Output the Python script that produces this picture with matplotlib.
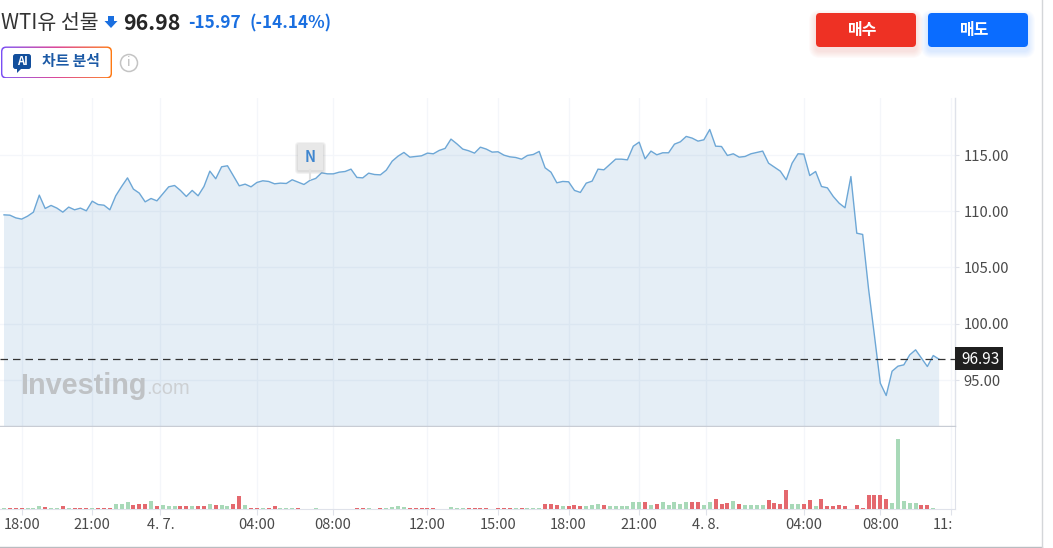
from matplotlib import pyplot as plt
from matplotlib.colors import LinearSegmentedColormap
from matplotlib.patches import FancyBboxPatch, Polygon, Circle, Rectangle
from matplotlib.transforms import ScaledTranslation
import numpy as np

plt.rcParams['font.family'] = ['Noto Sans CJK KR', 'DejaVu Sans']

W, H = 1053, 548

# 15 minute closes
prices = [
    109.70, 109.67, 109.43, 109.32, 109.58, 109.94, 111.46, 110.27, 110.54, 110.30,
    109.94, 110.39, 110.15, 110.30, 110.06, 110.92, 110.62, 110.56, 110.15, 111.40,
    112.23, 113.00, 112.00, 111.64, 110.86, 111.16, 110.95, 111.58, 112.20, 112.32,
    111.88, 111.34, 111.88, 111.40, 112.23, 113.60, 112.92, 113.99, 114.08, 113.19,
    112.29, 112.44, 112.20, 112.59, 112.74, 112.68, 112.47, 112.53, 112.50, 112.83,
    112.62, 112.41, 112.77, 112.95, 113.45, 113.36, 113.36, 113.51, 113.57, 113.78,
    113.04, 113.00, 113.42, 113.30, 113.27, 113.69, 114.49, 114.94, 115.27, 114.85,
    114.91, 114.97, 115.21, 115.15, 115.45, 115.63, 116.46, 116.04, 115.57, 115.42,
    115.21, 115.74, 115.57, 115.30, 115.33, 115.03, 114.88, 114.82, 114.67, 115.00,
    115.09, 115.36, 113.90, 113.51, 112.56, 112.68, 112.65, 111.88, 111.70, 112.53,
    112.71, 113.78, 113.72, 114.20, 114.67, 114.67, 114.61, 115.83, 116.19, 114.70,
    115.39, 115.06, 115.24, 115.24, 116.01, 116.22, 116.70, 116.55, 116.28, 116.40,
    117.32, 115.83, 115.80, 115.00, 115.15, 114.85, 114.91, 115.15, 115.27, 115.39,
    114.31, 113.96, 113.60, 112.83, 114.31, 115.15, 115.12, 113.21, 113.57, 112.23,
    112.11, 111.34, 110.74, 110.33, 113.12, 108.06, 107.95, 103.10, 98.93, 94.67,
    93.57, 95.74, 96.19, 96.31, 97.20, 97.65, 96.90, 96.16, 97.14, 96.81,
]

volumes = [
    2, 3, 3, 3, 2, 3, 7, 4, 3, 1,
    7, 3, 2, 2, 3, 2, 3, 3, 3, 14,
    14, 19, 11, 15, 15, 23, 7, 10, 7, 7,
    7, 7, 7, 7, 7, 14, 11, 10, 7, 14,
    38, 11, 2, 2, 2, 3, 7, 3, 3, 3,
    3, 0, 0, 3, 0, 0, 0, 0, 0, 0,
    3, 3, 1, 0, 3, 3, 5, 7, 6, 3,
    2, 2, 3, 3, 0, 0, 5, 3, 3, 2,
    2, 3, 3, 0, 2, 2, 3, 3, 3, 2,
    2, 3, 14, 15, 10, 7, 7, 10, 7, 7,
    10, 14, 10, 7, 7, 7, 7, 19, 19, 19,
    11, 14, 19, 11, 19, 14, 19, 19, 19, 12,
    21, 28, 14, 18, 22, 14, 10, 10, 10, 10,
    25, 18, 14, 55, 14, 14, 14, 25, 7, 29,
    7, 7, 10, 7, 0, 10, 3, 40, 40, 40,
    29, 18, 210, 22, 18, 18, 10, 10, 3, 0,
]

vol_sides = (
    'GRRRGGGRGG' 'RGRRRGRRRG' 'GGRRRGRGGG' 'RRGRRGRGGR'
    'RGRRGRRGGG' 'RGGGGGGGGG' 'RRGGRGGGGR' 'RRRRRGGGGR'
    'RRRGRRRGRG' 'GGRRRGRRRG' 'GGRGGGGGGR' 'GRGGGGGRRG'
    'GRRRGRGGGG' 'RRRRGGRRGR' 'RRRRRRRRRR' 'RGGGGGRRGG'
)

price_ticks = [95, 100, 105, 110, 115]
time_pos = [3.0, 14.9, 26.6, 43.0, 55.9, 72.0, 84.05, 96.0, 108.0, 119.4, 136.0, 149.0, 161.1]
time_labels = ['18:00', '21:00', '4. 7.', '04:00', '08:00', '12:00', '15:00',
               '18:00', '21:00', '4. 8.', '04:00', '08:00', '11:00']
last_label = '96.93'
last_y = 96.83

GREEN = '#a8d9b8'
RED = '#e4686e'
GRID = '#f4f6fa'
FRAME = '#dfe2ea'
TEXT = '#4a4a4a'
BLUE = '#1a6fe0'


def box(x0, y0, x1, y1):
    return [x0 / W, 1 - y1 / H, (x1 - x0) / W, (y1 - y0) / H]


def rounded(ax, x0, y0, x1, y1, r, **kw):
    p = FancyBboxPatch((x0 + r, y0 + r), x1 - x0 - 2 * r, y1 - y0 - 2 * r,
                       boxstyle='round,pad=%f,rounding_size=%f' % (r, r), **kw)
    ax.add_patch(p)
    return p


def soft_shadow(ax, x0, y0, x1, y1, r, color, spread, alpha, dy=4):
    for s in range(spread, 0, -1):
        rounded(ax, x0 - s, y0 - s + dy, x1 + s, y1 + s + dy, r + s,
                fc=color, ec='none', alpha=alpha)


fig = plt.figure(figsize=(W / 100, H / 100), dpi=100)
x = np.arange(len(prices))
xlim = (-0.68, 161.7)

# price panel
ax = fig.add_axes(box(0, 98, 955, 426))
ax.set_xlim(xlim)
ax.set_ylim(90.85, 120.13)
ax.fill_between(x, prices, 0, color='#1f6fb2', alpha=0.115, lw=0, zorder=2)
ax.plot(x, prices, color='#6da7d6', lw=1.0, zorder=3)
ax.axhline(last_y, color='#333333', lw=0.9, dashes=(6, 4), zorder=4)
ax.set_xticks(time_pos)
ax.set_yticks(price_ticks)
ax.set_yticklabels(['%.2f' % p for p in price_ticks], fontsize=10.7, color=TEXT)
ax.yaxis.tick_right()
ax.tick_params(axis='y', length=3, width=0.8, color=FRAME, pad=3)
ax.tick_params(axis='x', length=0, labelbottom=False)
ax.grid(True, color=GRID, lw=0.9, zorder=0)
ax.set_axisbelow(True)
for s in ['top', 'left']:
    ax.spines[s].set_visible(False)
ax.spines['right'].set_color(FRAME)
ax.spines['bottom'].set_color('#c8ccd4')
ax.spines['right'].set_linewidth(1)
ax.spines['bottom'].set_linewidth(1)
# 95.00 is pushed down a little by the last price label
lab95 = ax.get_yticklabels()[0]
lab95.set_transform(lab95.get_transform() + ScaledTranslation(0, -1 / 100, fig.dpi_scale_trans))

# volume panel
vax = fig.add_axes(box(0, 427, 955, 508.5))
vax.set_xlim(xlim)
vax.set_ylim(0, 244.5)
vax.bar(x, volumes, width=0.68, color=[GREEN if c == 'G' else RED for c in vol_sides], zorder=3)
vax.set_xticks(time_pos)
vax.set_xticklabels(time_labels, fontsize=10.5, color=TEXT)
vax.set_yticks([])
vax.tick_params(axis='x', length=4.5, width=0.8, color=FRAME, pad=2.5)
vax.grid(True, axis='x', color=GRID, lw=0.9, zorder=0)
vax.set_axisbelow(True)
for s in ['top', 'left']:
    vax.spines[s].set_visible(False)
vax.spines['right'].set_color(FRAME)
vax.spines['bottom'].set_color(FRAME)

# overlay in pixels for everything around the chart
top = fig.add_axes([0, 0, 1, 1], zorder=10)
top.set_xlim(0, W)
top.set_ylim(H, 0)
top.axis('off')
top.patch.set_alpha(0)

# last tick label is cut by the panel edge
edge = Rectangle((0, 0), 953 / W, 1, transform=fig.transFigure)
vax.get_xticklabels()[-1].set_clip_path(edge)
vax.get_xticklabels()[-1].set_clip_on(True)

top.plot([0, 1042], [547, 547], color='#b9bcc0', lw=1)
top.plot([1042, 1042], [0, 547], color='#d4d6d9', lw=1)

# watermark
top.text(20, 386, 'Investing', fontsize=20.8, fontweight='bold', color='#bfc2c5',
         family='Liberation Sans', va='center', ha='left')
top.text(146, 389, '.com', fontsize=14.5, color='#cdd0d3',
         family='Liberation Sans', va='center', ha='left')

# last price tag
top.add_patch(Rectangle((955, 347), 48, 23, fc='#1f1f1f', ec='none'))
top.text(980, 359.5, last_label, fontsize=11, color='white', ha='center', va='center')

# news flag
top.plot([310, 310], [170, 179], color='#e2e2e2', lw=1.5)
soft_shadow(top, 298, 144, 323, 170, 1, '#888888', 3, 0.1, dy=1)
top.add_patch(Rectangle((298, 144), 25, 26, fc='#e8e8e8', ec='none'))
top.text(310.5, 156.5, 'N', fontsize=10.5, fontweight='bold', color='#3f86cf', ha='center', va='center')

# header
top.text(1, 23, 'WTI유 선물', fontsize=14.8, color='#333333', va='center', ha='left')
top.add_patch(Polygon([[108, 16], [114, 16], [114, 21], [117.5, 21], [111, 28], [104.5, 21], [108, 21]],
                      fc=BLUE, ec='none'))
top.text(123, 23, '96.98', fontsize=15.4, fontweight='bold', color='#262626', va='center', ha='left')
top.text(188.5, 23, '-15.97', fontsize=12.4, fontweight='bold', color=BLUE, va='center', ha='left')
top.text(249.5, 23, '(-14.14%)', fontsize=12.4, fontweight='bold', color=BLUE, va='center', ha='left')

# AI button, gradient border
grad = LinearSegmentedColormap.from_list('ai', ['#7a50f5', '#d9358f', '#ff7a12'])
clip = rounded(top, 1, 46.5, 112, 78.5, 5, fc='none', ec='none')
im = top.imshow(np.linspace(0, 1, 256).reshape(1, -1), cmap=grad, extent=(1, 112, 78.5, 46.5),
                aspect='auto', zorder=2)
im.set_clip_path(clip)
top.set_xlim(0, W)
top.set_ylim(H, 0)
rounded(top, 2.4, 47.9, 110.6, 77.1, 4, fc='white', ec='none', zorder=3)
rounded(top, 13, 54, 31, 69, 2.5, fc='#124f9c', ec='none', zorder=4)
top.add_patch(Polygon([[17, 68], [22, 68], [17, 73]], fc='#124f9c', ec='none', zorder=4))
top.text(22, 61.5, 'AI', fontsize=8, fontweight='bold', color='white', ha='center', va='center', zorder=5)
top.text(71, 61, '차트 분석', fontsize=10.7, fontweight='bold', color='#1c5aa6', ha='center', va='center', zorder=5)
top.add_patch(Circle((129, 63), 8.5, fc='white', ec='#c4c4c4', lw=1.1))
top.text(129, 63, 'i', fontsize=9, color='#b5b5b5', ha='center', va='center')

# buy / sell buttons
soft_shadow(top, 816, 13, 916, 47, 4, '#ee3124', 7, 0.02)
rounded(top, 816, 13, 916, 47, 4, fc='#ee3124', ec='none')
top.text(863, 30, '매수', fontsize=11.5, fontweight='bold', color='white', ha='center', va='center')
soft_shadow(top, 928, 13, 1028, 47, 4, '#0a6cff', 7, 0.02)
rounded(top, 928, 13, 1028, 47, 4, fc='#0a6cff', ec='none')
top.text(975, 30, '매도', fontsize=11.5, fontweight='bold', color='white', ha='center', va='center')

fig.savefig('out.png', dpi=100)
